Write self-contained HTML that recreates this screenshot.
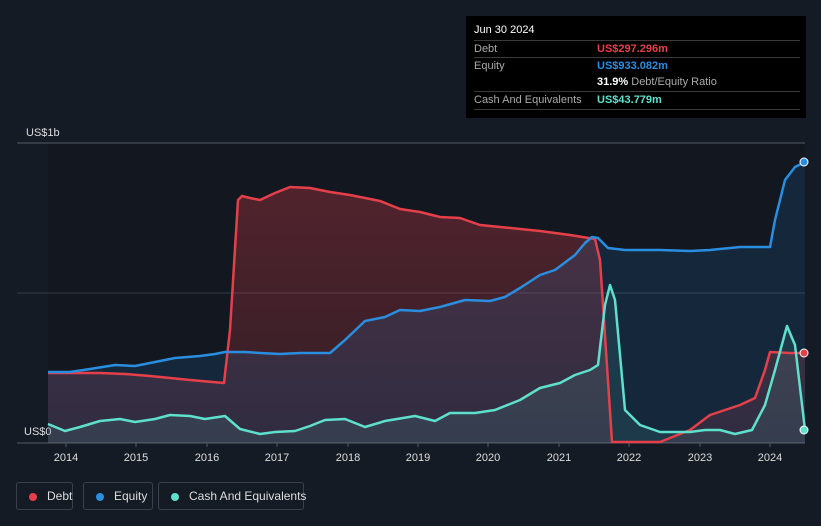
<!DOCTYPE html>
<html><head><style>
body{margin:0;background:#151b25;font-family:"Liberation Sans",sans-serif;}
.wrap{position:relative;width:821px;height:526px;overflow:hidden;background:#151b25}
.tip{position:absolute;left:466px;top:16px;width:340px;height:102px;background:#000;color:#fff;font-size:11px}
.tip .row{position:absolute;left:8px;right:6px;border-top:1px solid #3a3a3a;height:17px;line-height:17px;color:#aaa}
.tip .v{position:absolute;left:123px;font-weight:bold}
.leg{position:absolute;top:482px;height:28px;border:1px solid #3a414d;border-radius:3px;color:#ddd;font-size:12px;line-height:26px;box-sizing:border-box;white-space:nowrap}
.leg i{position:absolute;top:10px;left:12px;width:8px;height:8px;border-radius:50%}
.leg span{position:absolute;left:30px}
</style></head><body><div class="wrap">
<svg width="821" height="526" style="position:absolute;left:0;top:0">
<defs>
<linearGradient id="gd" x1="0" y1="0" x2="0" y2="1"><stop offset="0" stop-color="#e5404a" stop-opacity="0.3"/><stop offset="1" stop-color="#e5404a" stop-opacity="0.15"/></linearGradient>
</defs>
<rect x="48" y="143" width="757" height="300" fill="#121720"/>
<line x1="17" y1="143" x2="805" y2="143" stroke="#555a62" stroke-width="1"/>
<line x1="17" y1="293" x2="805" y2="293" stroke="#353a43" stroke-width="1"/>
<line x1="17" y1="443" x2="805" y2="443" stroke="#555a62" stroke-width="1"/>
<g font-size="11" fill="#ddd">
<text x="26" y="136">US$1b</text><text x="24" y="435">US$0</text>
<g text-anchor="middle" font-size="11">
<text x="66" y="461">2014</text><text x="136" y="461">2015</text><text x="207" y="461">2016</text><text x="277" y="461">2017</text><text x="348" y="461">2018</text><text x="418" y="461">2019</text><text x="488" y="461">2020</text><text x="559" y="461">2021</text><text x="629" y="461">2022</text><text x="700" y="461">2023</text><text x="770" y="461">2024</text></g></g>
<g stroke="#555a62"><line x1="66" y1="443" x2="66" y2="447"/><line x1="136" y1="443" x2="136" y2="447"/><line x1="207" y1="443" x2="207" y2="447"/><line x1="277" y1="443" x2="277" y2="447"/><line x1="348" y1="443" x2="348" y2="447"/><line x1="418" y1="443" x2="418" y2="447"/><line x1="488" y1="443" x2="488" y2="447"/><line x1="559" y1="443" x2="559" y2="447"/><line x1="629" y1="443" x2="629" y2="447"/><line x1="700" y1="443" x2="700" y2="447"/><line x1="770" y1="443" x2="770" y2="447"/></g>
<polygon points="48,443 48,373 100,373 125,374 150,376 190,380 224,383 230,330 238,200 242,196 250,198 260,200 275,193 290,187 310,188 330,192 350,195 380,201 400,209 420,212 440,217 460,218 480,225 500,227 540,231 570,235 595,239 600,260 612,442 660,442 690,430 710,415 740,405 755,398 765,370 770,352 790,353 805,353 805,443" fill="url(#gd)"/>
<polygon points="48,443 48,372 70,372 90,369 115,365 135,366 150,363 175,358 200,356 215,354 225,352 245,352 260,353 280,354 300,353 330,353 345,340 365,321 385,317 400,310 420,311 440,307 465,300 490,301 505,297 520,288 540,275 555,270 575,255 585,243 592,237 598,238 608,248 625,250 660,250 690,251 710,250 740,247 770,247 775,220 785,180 795,167 805,162 805,443" fill="#2a8ee0" fill-opacity="0.14"/>
<polygon points="48,443 48,424 65,431 80,427 100,421 120,419 135,422 155,419 170,415 190,416 205,419 225,416 240,429 260,434 275,432 295,431 310,426 325,420 345,419 365,427 385,421 415,416 435,421 450,413 475,413 495,410 520,400 540,388 560,383 575,375 590,370 598,365 605,305 610,285 615,300 625,410 640,425 660,432 690,432 705,430 720,430 735,434 752,430 765,405 775,370 787,326 795,345 805,430 805,443" fill="#5ee0cc" fill-opacity="0.1"/>
<polyline points="48,373 100,373 125,374 150,376 190,380 224,383 230,330 238,200 242,196 250,198 260,200 275,193 290,187 310,188 330,192 350,195 380,201 400,209 420,212 440,217 460,218 480,225 500,227 540,231 570,235 595,239 600,260 612,442 660,442 690,430 710,415 740,405 755,398 765,370 770,352 790,353 805,353" fill="none" stroke="#e5404a" stroke-width="2.5" stroke-linejoin="round"/>
<polyline points="48,372 70,372 90,369 115,365 135,366 150,363 175,358 200,356 215,354 225,352 245,352 260,353 280,354 300,353 330,353 345,340 365,321 385,317 400,310 420,311 440,307 465,300 490,301 505,297 520,288 540,275 555,270 575,255 585,243 592,237 598,238 608,248 625,250 660,250 690,251 710,250 740,247 770,247 775,220 785,180 795,167 805,162" fill="none" stroke="#2a8ee0" stroke-width="2.5" stroke-linejoin="round"/>
<polyline points="48,424 65,431 80,427 100,421 120,419 135,422 155,419 170,415 190,416 205,419 225,416 240,429 260,434 275,432 295,431 310,426 325,420 345,419 365,427 385,421 415,416 435,421 450,413 475,413 495,410 520,400 540,388 560,383 575,375 590,370 598,365 605,305 610,285 615,300 625,410 640,425 660,432 690,432 705,430 720,430 735,434 752,430 765,405 775,370 787,326 795,345 805,430" fill="none" stroke="#5ee0cc" stroke-width="2.5" stroke-linejoin="round"/>
<circle cx="804" cy="353" r="4" fill="#e5404a" stroke="#fff" stroke-width="1"/>
<circle cx="804" cy="162" r="4" fill="#2a8ee0" stroke="#fff" stroke-width="1"/>
<circle cx="804" cy="430" r="4" fill="#5ee0cc" stroke="#fff" stroke-width="1"/>
</svg>
<div class="tip">
<div style="position:absolute;left:8px;top:8px;font-size:11px;color:#fff">Jun 30 2024</div>
<div class="row" style="top:24px">Debt<span class="v" style="color:#e5404a">US$297.296m</span></div>
<div class="row" style="top:41px">Equity<span class="v" style="color:#2a8ee0">US$933.082m</span></div>
<div class="row" style="top:58px;border-top:none"><span class="v" style="color:#fff">31.9% <span style="color:#aaa;font-weight:normal">Debt/Equity Ratio</span></span></div>
<div class="row" style="top:75px">Cash And Equivalents<span class="v" style="color:#5ee0cc">US$43.779m</span></div>
<div class="row" style="top:93px;height:0"></div>
</div>
<div class="leg" style="left:16px;width:57px"><i style="background:#e5404a"></i><span>Debt</span></div>
<div class="leg" style="left:83px;width:70px"><i style="background:#2a8ee0"></i><span>Equity</span></div>
<div class="leg" style="left:158px;width:146px"><i style="background:#5ee0cc"></i><span>Cash And Equivalents</span></div>
</div></body></html>
